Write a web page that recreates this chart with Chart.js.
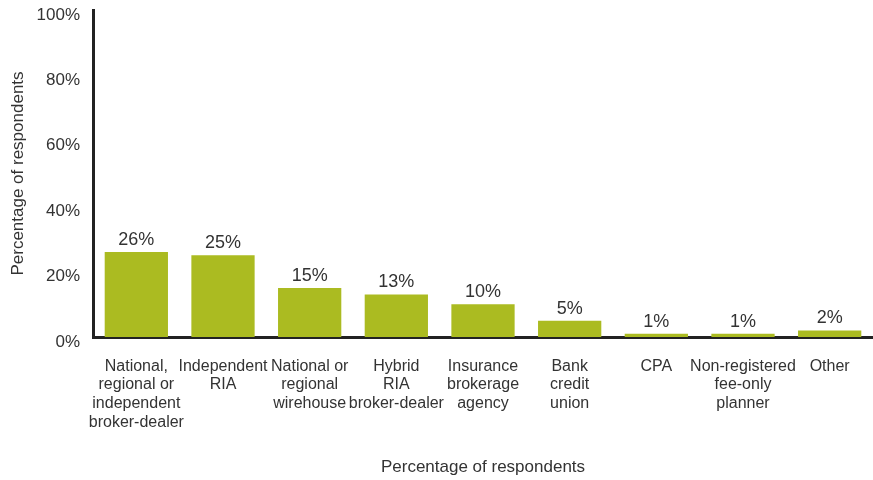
<!DOCTYPE html>
<html>
<head>
<meta charset="utf-8">
<script src="https://cdn.jsdelivr.net/npm/chart.js@4"></script>
<style>
  html, body { margin: 0; padding: 0; background: #fff; }
  #wrap { width: 873px; height: 480px; }
</style>
</head>
<body>
<div id="wrap"><canvas id="chart" width="873" height="480"></canvas></div>
<script>
const categories = [
  ['National,', 'regional or', 'independent', 'broker-dealer'],
  ['Independent', 'RIA'],
  ['National or', 'regional', 'wirehouse'],
  ['Hybrid', 'RIA', 'broker-dealer'],
  ['Insurance', 'brokerage', 'agency'],
  ['Bank', 'credit', 'union'],
  'CPA',
  ['Non-registered', 'fee-only', 'planner'],
  'Other'
];
const shares = [26, 25, 15, 13, 10, 5, 1, 1, 2];
const yTicks = [0, 20, 40, 60, 80, 100];

const FONT = "'Liberation Sans Narrow', 'Liberation Sans', Arial, sans-serif";
const INK = '#333333';

// percentage above each bar
const valueLabels = {
  id: 'valueLabels',
  afterDatasetsDraw(chart) {
    const ctx = chart.ctx;
    const meta = chart.getDatasetMeta(0);
    ctx.save();
    ctx.font = '18px ' + FONT;
    ctx.fillStyle = INK;
    ctx.textAlign = 'center';
    ctx.textBaseline = 'bottom';
    meta.data.forEach((bar, i) => {
      ctx.fillText(shares[i] + '%', bar.x, bar.y - 3);
    });
    ctx.restore();
  }
};

new Chart(document.getElementById('chart'), {
  type: 'bar',
  data: {
    labels: categories,
    datasets: [{
      data: shares,
      backgroundColor: '#abbb21',
      barPercentage: 0.73,
      categoryPercentage: 1
    }]
  },
  options: {
    responsive: false,
    animation: false,
    layout: { padding: { top: 10, right: -9, left: 0, bottom: 0 } },
    plugins: { legend: { display: false }, tooltip: { enabled: false } },
    scales: {
      x: {
        grid: { display: false },
        border: { color: '#222', width: 3 },
        ticks: {
          autoSkip: false, maxRotation: 0, minRotation: 0,
          color: INK, padding: 12,
          font: { family: FONT, size: 16, lineHeight: 1.17 }
        },
        title: {
          display: true, text: 'Percentage of respondents', color: INK,
          font: { family: FONT, size: 17 },
          padding: { top: 4, bottom: 2 }
        },
        afterFit(s) { s.height = 143; }
      },
      y: {
        min: 0, max: 100,
        afterBuildTicks(s) { s.ticks = yTicks.map(v => ({ value: v })); },
        grid: { display: false },
        border: { color: '#222', width: 3 },
        ticks: {
          color: INK, padding: 5, labelOffset: 5,
          font: { family: FONT, size: 17 },
          callback: v => v + '%'
        },
        title: {
          display: true, text: 'Percentage of respondents', color: INK,
          font: { family: FONT, size: 17 },
          padding: { top: 8, bottom: 0 }
        },
        afterFit(s) {
          s.width = 93;
          // let the axis run right up to the top padding
          s.paddingTop = 0;
          s.paddingBottom = 0;
        }
      }
    }
  },
  plugins: [valueLabels]
});
</script>
</body>
</html>
